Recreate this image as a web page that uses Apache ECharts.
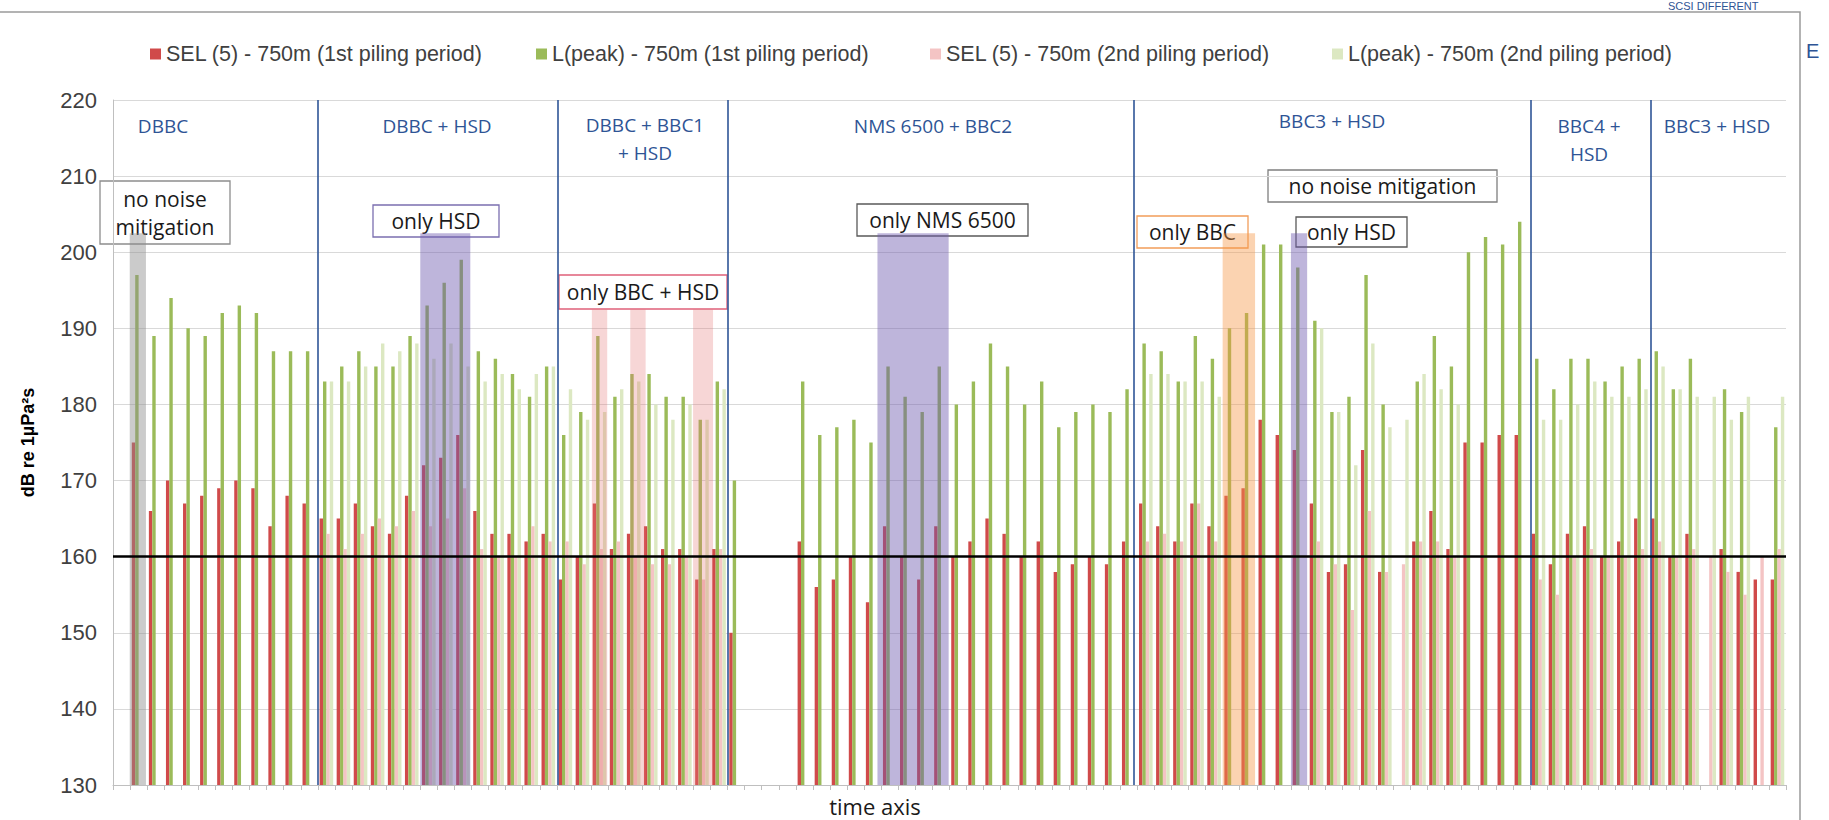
<!DOCTYPE html>
<html><head><meta charset="utf-8">
<script src="https://cdn.jsdelivr.net/npm/echarts@6/dist/echarts.min.js"></script>
<style>html,body{margin:0;padding:0;background:#fff}#c{width:1829px;height:820px}</style>
</head><body><div id="c"></div>
<script>
// ---- data ----
const categories = Array.from({length: 98}, (_, i) => 'T' + i); // hidden time steps
const yTicks = [130, 140, 150, 160, 170, 180, 190, 200, 210, 220];
const sel1 = [null,175,166,170,167,168,169,170,169,164,
  168,167,165,165,167,164,163,168,172,173,
  176,166,163,163,162,163,157,160,167,161,
  163,164,161,161,157,161,150,null,null,null,
  162,156,157,160,154,164,160,157,164,160,
  162,165,163,160,162,158,159,160,159,162,
  167,164,162,167,164,168,169,178,176,174,
  167,158,159,174,158,null,162,166,161,175,
  175,176,176,163,159,163,164,160,162,165,
  165,160,163,null,161,158,157,157];
const lpk1 = [null,197,189,194,190,189,192,193,192,187,
  187,187,183,185,187,185,185,189,193,196,
  199,187,186,184,181,185,176,179,189,181,
  184,184,181,181,178,183,170,null,null,null,
  183,176,177,178,175,185,181,179,185,180,
  183,188,185,180,183,177,179,180,179,182,
  188,187,183,189,186,190,192,201,201,198,
  191,179,181,197,180,null,183,189,185,200,
  202,201,204,186,182,186,186,183,185,186,
  187,182,186,null,182,179,null,177];
const sel2 = [null,null,null,null,null,null,null,null,null,null,
  null,null,163,161,163,165,164,166,164,165,
  169,161,160,160,164,162,162,159,161,162,
  160,159,159,160,157,161,null,null,null,null,
  null,null,null,null,null,null,null,null,null,null,
  null,null,null,null,null,null,null,null,null,null,
  162,163,162,167,162,null,null,null,null,null,
  162,159,153,166,158,159,162,162,160,null,
  null,null,null,157,155,160,161,160,160,161,
  162,160,161,160,158,155,160,161];
const lpk2 = [null,null,null,null,null,null,null,null,null,null,
  null,null,183,183,185,188,187,188,186,188,
  185,183,184,182,184,185,182,178,179,182,
  183,180,178,180,178,182,null,null,null,null,
  null,null,null,null,null,null,null,null,null,null,
  null,null,null,null,null,null,null,null,null,null,
  184,184,183,183,181,null,null,null,null,null,
  190,179,172,188,177,178,184,182,180,null,
  null,null,null,178,178,180,183,181,181,182,
  185,182,181,181,178,181,null,181];
const seriesNames = ['SEL (5) - 750m (1st piling period)', 'L(peak) - 750m (1st piling period)',
  'SEL (5) - 750m (2nd piling period)', 'L(peak) - 750m (2nd piling period)'];
const thresholdValue = 160;
// period boundaries and highlighted ranges (in category units along the time axis)
const boundaries = [12.0, 26.05, 36.0, 59.8, 83.05, 90.1];
const bandFrom = [0.98, 18.0, 28.05, 30.3, 33.98, 44.78, 65.0, 69.0];
const bandTo   = [1.93, 20.93, 28.95, 31.2, 35.15, 48.95, 66.9, 69.95];
const bandTop  = [202.5, 202.5, 192.5, 192.5, 192.5, 202.5, 202.5, 202.5];
const bandKind = ['gray', 'purple', 'pink', 'pink', 'pink', 'purple', 'orange', 'purple'];

// ---- styles ----
const colors = ['#D04A4A', '#9BBB59', '#F4C4C4', '#DCE8C2'];
const bandColors = {gray: 'rgba(140,140,140,0.45)', purple: 'rgba(110,90,175,0.45)',
  pink: 'rgba(230,120,120,0.30)', orange: 'rgba(245,150,70,0.42)'};

const chart = echarts.init(document.getElementById('c'), null, {renderer: 'svg'});
const legendLeft = [145, 531, 925, 1327];

const bars = seriesNames.map((name, i) => ({
  name, type: 'bar', xAxisIndex: 0, yAxisIndex: 0,
  data: [sel1, lpk1, sel2, lpk2][i],
  barWidth: 3.4, barGap: '0%',
  itemStyle: {color: colors[i]}, z: 2, silent: true
}));

function box(x0, y0, x1, y1, border, text) {
  return {type: 'group', z: 100, children: [
    {type: 'rect', shape: {x: x0, y: y0, width: x1 - x0, height: y1 - y0},
     style: {fill: '#fff', stroke: border, lineWidth: 1.3}},
    {type: 'text', x: (x0 + x1) / 2, y: (y0 + y1) / 2,
     style: {text, fill: '#1a1a1a', fontSize: 21, fontFamily: 'Open Sans', align: 'center',
             verticalAlign: 'middle', lineHeight: 28}}
  ]};
}
function region(x, y, text) {
  return {type: 'text', x, y, z: 100,
    style: {text, fill: '#2E5495', fontSize: 19, fontFamily: 'Open Sans', align: 'center',
            verticalAlign: 'middle', lineHeight: 28}};
}

chart.setOption({
  animation: false,
  backgroundColor: '#fff',
  legend: seriesNames.map((n, i) => ({
    data: [n], left: legendLeft[i], top: 38, icon: 'rect', itemWidth: 11, itemHeight: 11,
    selectedMode: false,
    textStyle: {fontSize: 21.5, color: '#404040', fontFamily: 'Liberation Sans'}
  })),
  grid: {left: 113, right: 43, top: 100, bottom: 35, containLabel: false},
  xAxis: [{
    type: 'category', data: categories, boundaryGap: true,
    axisLine: {show: true, lineStyle: {color: '#BFBFBF', width: 1}},
    axisTick: {show: true, interval: 0, length: 5, lineStyle: {color: '#BFBFBF'}},
    axisLabel: {show: false}, splitLine: {show: false}
  }, {
    type: 'value', min: 0, max: 98, show: false, splitLine: {show: false}
  }],
  yAxis: {
    type: 'value', min: yTicks[0], max: yTicks[yTicks.length - 1], interval: 10,
    name: 'dB re 1µPa²s', nameLocation: 'middle', nameGap: 76, nameRotate: 90,
    nameTextStyle: {fontSize: 18, fontWeight: 'bold', color: '#000', fontFamily: 'Liberation Sans'},
    axisLine: {show: true, lineStyle: {color: '#BFBFBF'}},
    axisTick: {show: false},
    axisLabel: {fontSize: 22, color: '#404040', margin: 16, fontFamily: 'Liberation Sans'},
    splitLine: {lineStyle: {color: '#D9D9D9', width: 1}}
  },
  series: [...bars, {
    name: 'overlay', type: 'line', xAxisIndex: 1, yAxisIndex: 0, data: [[0, 130]],
    showSymbol: false, symbolSize: 0, lineStyle: {opacity: 0}, z: 5, silent: true,
    markArea: {silent: true, z: 5, data: bandFrom.map((f, i) => [
      {xAxis: f, yAxis: 130, itemStyle: {color: bandColors[bandKind[i]]}},
      {xAxis: bandTo[i], yAxis: bandTop[i]}])},
    markLine: {silent: true, symbol: ['none', 'none'], label: {show: false}, z: 6,
      data: [...boundaries.map(b => ({xAxis: b, lineStyle: {color: '#2F5597', width: 1.6, type: 'solid'}})),
             {yAxis: thresholdValue, lineStyle: {color: '#000', width: 2.5, type: 'solid'}}]}
  }],
  graphic: [
    {type: 'rect', z: 0, shape: {x: -2, y: 12, width: 1802, height: 830},
     style: {fill: 'none', stroke: '#9a9a9a', lineWidth: 1.5}},
    {type: 'text', x: 1668, y: 0, style: {text: 'SCSI DIFFERENT', fill: '#2E5495', fontSize: 11, fontFamily: 'Liberation Sans'}},
    {type: 'text', x: 1806, y: 41, style: {text: 'E', fill: '#2E5495', fontSize: 20, fontFamily: 'Liberation Sans'}},
    {type: 'text', x: 875, y: 806, z: 100, style: {text: 'time axis', fill: '#1a1a1a', fontSize: 22,
      fontFamily: 'Open Sans', align: 'center', verticalAlign: 'middle'}},
    region(163, 126, 'DBBC'),
    region(437, 126, 'DBBC + HSD'),
    region(645, 139, 'DBBC + BBC1\n+ HSD'),
    region(933, 126, 'NMS 6500 + BBC2'),
    region(1332, 121, 'BBC3 + HSD'),
    region(1589, 140, 'BBC4 +\nHSD'),
    region(1717, 126, 'BBC3 + HSD'),
    box(100, 181, 230, 244, '#8d8d8d', 'no noise\nmitigation'),
    box(373, 205, 499, 237, '#7b6fb0', 'only HSD'),
    box(559, 275, 727, 309, '#e0607a', 'only BBC + HSD'),
    box(857, 204, 1028, 236, '#595959', 'only NMS 6500'),
    box(1137, 216, 1248, 248, '#f29d5a', 'only BBC'),
    box(1268, 170, 1497, 202, '#7f7f7f', 'no noise mitigation'),
    box(1296, 217, 1407, 247, '#595959', 'only HSD')
  ]
});
</script></body></html>
